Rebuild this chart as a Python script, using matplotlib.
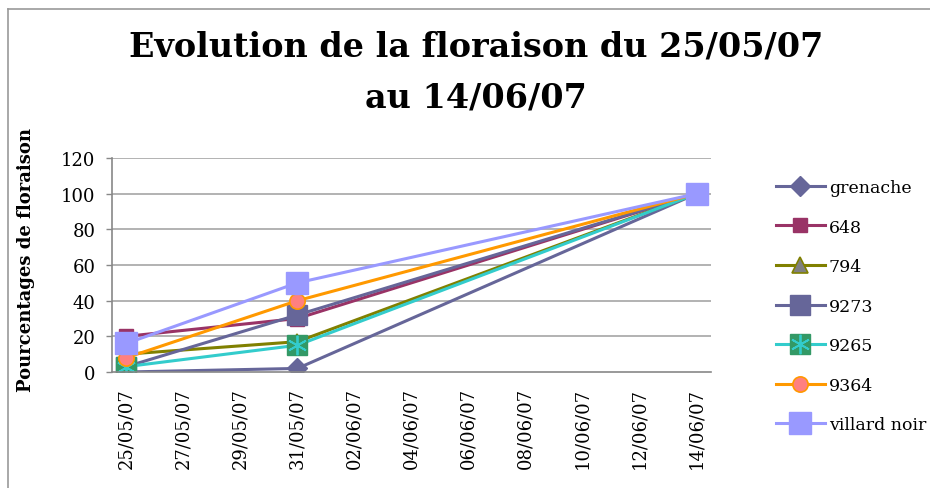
import datetime as dt
import pandas as pd
import matplotlib
matplotlib.use("Agg")
import matplotlib.pyplot as plt
import matplotlib.dates as mdates
from matplotlib.lines import Line2D
from matplotlib.legend_handler import HandlerTuple

dates = [dt.date(2007, 5, 25), dt.date(2007, 5, 31), dt.date(2007, 6, 14)]
tick_dates = pd.date_range("2007-05-25", "2007-06-14", freq="2D")

grenache = [0, 2, 100]
s648 = [20, 30, 100]
s794 = [10, 17, 100]
s9273 = [3, 32, 100]
s9265 = [3, 15, 100]
s9364 = [8, 40, 100]
villard_noir = [16, 50, 100]

plt.rcParams['font.family'] = ['DejaVu Serif']

W, H = 930, 489
fig = plt.figure(figsize=(W / 100, H / 100), dpi=100)
ax = fig.add_axes([112 / W, 1 - 373 / H, (711 - 112) / W, (373 - 159) / H])

# outer frame, only top and left edges are visible
fig.add_artist(Line2D([8 / W, 8 / W], [0, 1 - 10 / H], transform=fig.transFigure,
                      color='#999999', lw=1.2))
fig.add_artist(Line2D([8 / W, 1], [1 - 10 / H, 1 - 10 / H], transform=fig.transFigure,
                      color='#999999', lw=1.2))

lw = 2.2
handles = []
h, = ax.plot(dates, grenache, color='#666699', lw=lw, marker='D', ms=10,
             mfc='#666699', mec='#666699')
handles.append(h)
h, = ax.plot(dates, s648, color='#993366', lw=lw, marker='s', ms=10,
             mfc='#993366', mec='#993366')
handles.append(h)
h, = ax.plot(dates, s794, color='#808000', lw=lw, marker='^', ms=11,
             mfc='#808080', mec='#808000', mew=1.2)
handles.append(h)
h, = ax.plot(dates, s9273, color='#666699', lw=lw, marker='s', ms=15,
             mfc='#666699', mec='#666699')
handles.append(h)
h1, = ax.plot(dates, s9265, color='#33CCCC', lw=lw, marker='s', ms=15,
              mfc='#339966', mec='#339966')
h2, = ax.plot(dates, s9265, ls='none', marker=(6, 2, 0), ms=14,
              mec='#33CCCC', mew=1.3)
handles.append((h1, h2))
h, = ax.plot(dates, s9364, color='#FF9900', lw=lw, marker='o', ms=11,
             mfc='#FF8080', mec='#FF9900', mew=1.2)
handles.append(h)
h, = ax.plot(dates, villard_noir, color='#9999FF', lw=lw, marker='s', ms=15.5,
             mfc='#9999FF', mec='#9999FF')
handles.append(h)
labels = ['grenache', '648', '794', '9273', '9265', '9364', 'villard noir']

for v in range(20, 121, 20):
    ax.axhline(v, color='#A6A6A6', lw=1.2, zorder=0)

ax.set_ylim(0, 120)
ax.set_yticks(range(0, 121, 20))
ax.set_xlim(mdates.date2num(dates[0]) - 0.5, mdates.date2num(dates[-1]) + 0.5)
ax.set_xticks(mdates.date2num(tick_dates.to_pydatetime()))
ax.xaxis.set_major_formatter(mdates.DateFormatter('%d/%m/%y'))
ax.tick_params(axis='x', length=0, pad=11, labelsize=13, labelrotation=90)
ax.tick_params(axis='y', length=4, width=1, color='#888888', pad=8, labelsize=13)
for side in ['top', 'right']:
    ax.spines[side].set_visible(False)
for side in ['left', 'bottom']:
    ax.spines[side].set_color('#888888')
    ax.spines[side].set_linewidth(1.2)

ax.set_ylabel('Pourcentages de floraison', fontsize=13, fontweight='bold')
ax.yaxis.set_label_coords(35 / W, 1 - 260 / H, transform=fig.transFigure)

fig.text(476 / W, 1 - 47 / H, 'Evolution de la floraison du 25/05/07',
         ha='center', va='center', fontsize=24, fontweight='bold')
fig.text(476 / W, 1 - 98 / H, 'au 14/06/07',
         ha='center', va='center', fontsize=24, fontweight='bold')

fig.legend(handles, labels, loc='upper left',
           bbox_to_anchor=(776 / W, 1 - 180 / H), bbox_transform=fig.transFigure,
           frameon=False, borderpad=0, borderaxespad=0, fontsize=12.5,
           labelspacing=1.3, handlelength=2.8, handletextpad=0.25,
           handler_map={tuple: HandlerTuple(ndivide=1)})

fig.savefig('out.png', dpi=100)
